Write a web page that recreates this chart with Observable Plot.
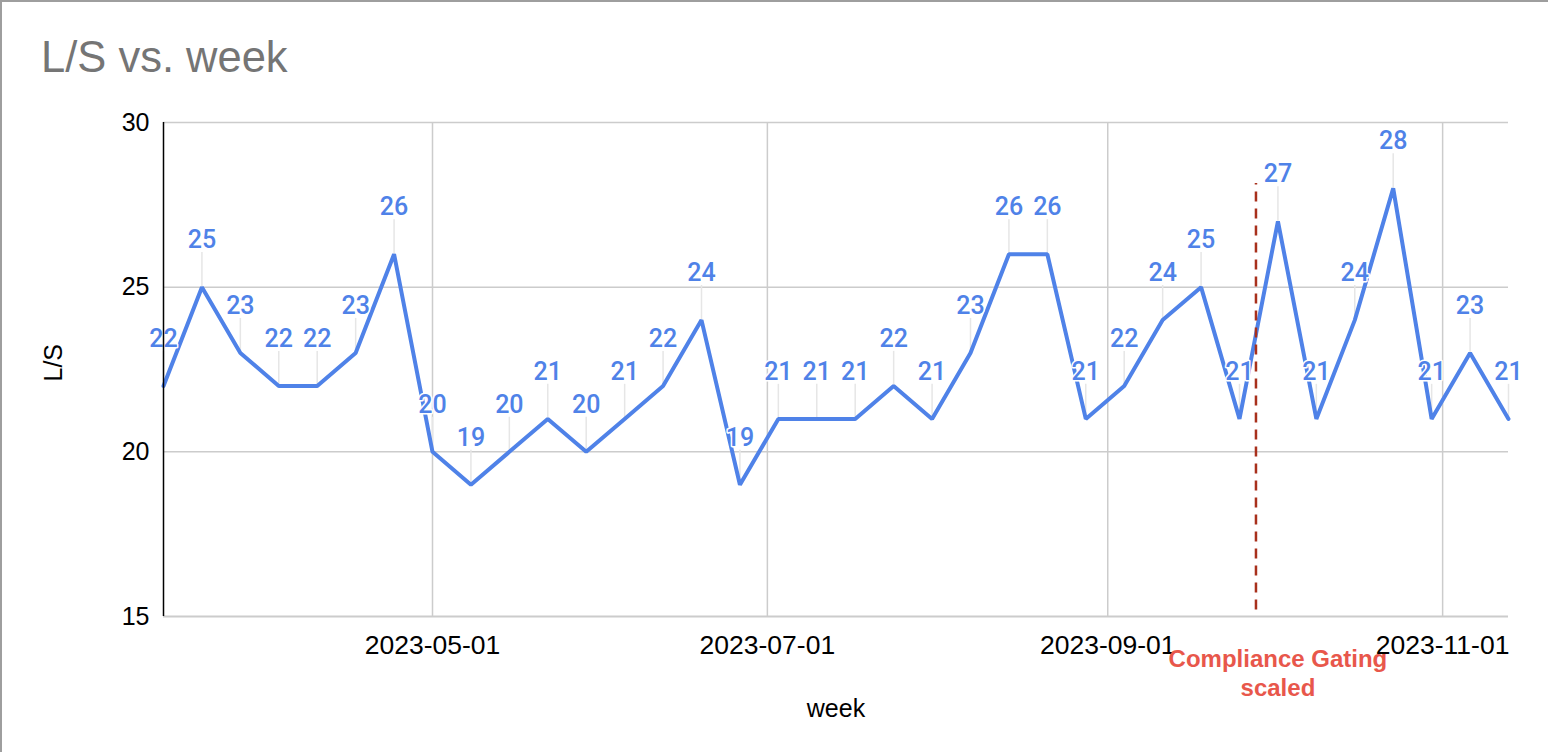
<!DOCTYPE html>
<html>
<head>
<meta charset="utf-8">
<script src="https://cdn.jsdelivr.net/npm/d3@7"></script>
<script src="https://cdn.jsdelivr.net/npm/@observablehq/plot@0.6"></script>
<style>
  html, body { margin: 0; padding: 0; background: #fff; }
  #wrap { position: relative; width: 1548px; height: 752px; box-sizing: border-box;
          border-top: 2px solid #9e9e9e; border-left: 2px solid #9e9e9e; overflow: hidden; }
  #title { position: absolute; left: 39px; top: 34px; font-family: "Liberation Sans", Arial, sans-serif;
           font-size: 43.5px; color: #757575; line-height: 1; white-space: nowrap; }
  #chart { position: absolute; left: -2px; top: -2px; }
</style>
</head>
<body>
<div id="wrap">
  <div id="title">L/S vs. week</div>
  <div id="chart"></div>
</div>
<script>
const weeks = ["2023-03-13","2023-03-20","2023-03-27","2023-04-03","2023-04-10","2023-04-17","2023-04-24",
  "2023-05-01","2023-05-08","2023-05-15","2023-05-22","2023-05-29","2023-06-05","2023-06-12","2023-06-19",
  "2023-06-26","2023-07-03","2023-07-10","2023-07-17","2023-07-24","2023-07-31","2023-08-07","2023-08-14",
  "2023-08-21","2023-08-28","2023-09-04","2023-09-11","2023-09-18","2023-09-25","2023-10-02","2023-10-09",
  "2023-10-16","2023-10-23","2023-10-30","2023-11-06","2023-11-13"];
const ls = [22,25,23,22,22,23,26,20,19,20,21,20,21,22,24,19,21,21,21,22,21,23,26,26,21,22,24,25,21,27,21,24,28,21,23,21];
const xTicks = ["2023-05-01","2023-07-01","2023-09-01","2023-11-01"];
const yTicks = [15,20,25,30];
const xLabel = "week";
const yLabel = "L/S";
const markerDate = "2023-09-28";
const markerRange = [15.2, 28.15];
const noteDate = "2023-10-02";
const noteText = "Compliance Gating\nscaled";

const parse = s => new Date(s + "T00:00:00Z");
const data = weeks.map((w, i) => ({week: parse(w), ls: ls[i]}));
const xDomain = [parse(weeks[0]), parse(weeks[weeks.length - 1])];
const leader = 1.05; // leader length in y units
const sans = "'Liberation Sans', Arial, sans-serif";

const blue = "#4f82e8";
const plot = Plot.plot({
  width: 1548,
  height: 752,
  marginLeft: 163,
  marginRight: 40,
  marginTop: 122,
  marginBottom: 136,
  style: {fontFamily: sans, fontSize: "25px", color: "#000", background: "transparent", overflow: "visible"},
  x: {type: "utc", domain: xDomain},
  y: {domain: [15, 30]},
  marks: [
    Plot.gridY(yTicks.slice(1), {stroke: "#cccccc", strokeOpacity: 1, strokeWidth: 1.5}),
    Plot.gridX(xTicks.map(parse), {stroke: "#cccccc", strokeOpacity: 1, strokeWidth: 1.5}),
    Plot.ruleY([yTicks[0]], {stroke: "#cccccc", strokeWidth: 2}),
    Plot.axisY({ticks: yTicks, tickSize: 0, tickPadding: 14, fontSize: 25, label: null}),
    Plot.axisX({ticks: xTicks.map(parse), tickSize: 0, tickPadding: 19, fontSize: 26.5, tickFormat: d3.utcFormat("%Y-%m-%d"), label: null}),
    Plot.text([yLabel], {text: d => d, frameAnchor: "left", rotate: -90, dx: -110, dy: 12, fontSize: 25, fill: "#000"}),
    Plot.text([xLabel], {text: d => d, frameAnchor: "bottom", dy: 100, fontSize: 25, fill: "#000"}),
    Plot.ruleX(data, {x: "week", y1: "ls", y2: d => d.ls + leader, stroke: "#e6e6e6", strokeWidth: 1.5}),
    Plot.line(data, {x: "week", y: "ls", stroke: blue, strokeWidth: 4, strokeLinejoin: "miter"}),
    Plot.ruleX([parse(markerDate)], {y1: markerRange[0], y2: markerRange[1], stroke: "#a8301c", strokeWidth: 2.5, strokeDasharray: "10,7"}),
    Plot.text(data, {x: "week", y: "ls", text: d => String(d.ls), dy: -47, fill: blue, stroke: "white", strokeWidth: 3,
      fontSize: 25, fontWeight: 500, fontFamily: "Roboto, sans-serif"}),
    Plot.ruleX([xDomain[0]], {y1: 15, y2: 30, stroke: "#000", strokeWidth: 1.5}),
    Plot.text([{d: parse(noteDate), y: 15, t: noteText}], {x: "d", y: "y", text: "t", lineAnchor: "top", dy: 30,
      fill: "#e8574b", fontWeight: "bold", fontSize: 24, lineHeight: 1.2, fontFamily: sans})
  ]
});
document.getElementById("chart").appendChild(plot);
</script>
</body>
</html>
